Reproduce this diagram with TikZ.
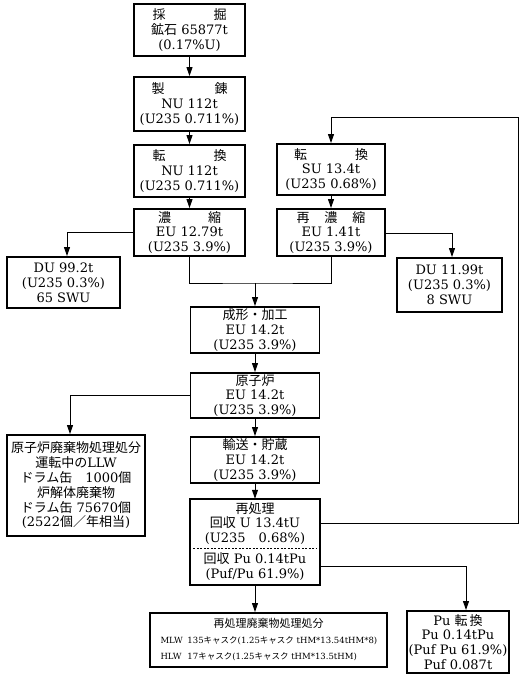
\documentclass[tikz,border=0pt]{standalone}
\usepackage{fontspec}
\setmainfont{DejaVu Serif}
\newfontfamily\jp{Noto Sans CJK JP}
\usetikzlibrary{arrows.meta}

\begin{document}
\begin{tikzpicture}[x=1pt,y=-1pt,
  box/.style={draw,line width=1.9pt,align=center,inner sep=0.5pt,font=\fontsize{13}{14.8}\selectfont},
  plain/.style={align=center,inner sep=0.5pt,font=\fontsize{13}{14.8}\selectfont},
  line/.style={line width=1pt},
  arr/.style={line,-{Triangle[length=9pt,width=6pt]}}]
  \useasboundingbox (0,0) rectangle (520,684);

  \node[box,minimum width=111,minimum height=52] (mine) at (189.5,30)
    {{\jp 採}\hspace{48pt}{\jp 掘}\\{\jp 鉱石} 65877t\\(0.17\%U)};
  \node[box,minimum width=111,minimum height=54] (refine) at (189.5,104)
    {{\jp 製}\hspace{50pt}{\jp 錬}\\NU 112t\\(U235 0.711\%)};
  \node[box,minimum width=111,minimum height=52] (conv) at (189.5,171)
    {{\jp 転}\hspace{48pt}{\jp 換}\\NU 112t\\(U235 0.711\%)};
  \node[box,minimum width=111,minimum height=47] (enrich) at (189.5,232.5)
    {{\jp 濃}\hspace{37pt}{\jp 縮}\\EU 12.79t\\(U235 3.9\%)};
  \node[box,minimum width=108,minimum height=51] (suconv) at (331,169.5)
    {{\jp 転}\hspace{48pt}{\jp 換}\\SU 13.4t\\(U235 0.68\%)};
  \node[box,minimum width=108,minimum height=47] (reenrich) at (331,232.5)
    {{\jp 再}\hspace{15pt}{\jp 濃}\hspace{15pt}{\jp 縮}\\EU 1.41t\\(U235 3.9\%)};
  \node[box,minimum width=113,minimum height=51] (du1) at (63.5,282.5)
    {DU 99.2t\\(U235 0.3\%)\\65 SWU};
  \node[box,minimum width=105,minimum height=54] (du2) at (449.5,285)
    {DU 11.99t\\(U235 0.3\%)\\8 SWU};
  \node[box,minimum width=129,minimum height=46] (fab) at (255,330)
    {{\jp 成形・加工}\\EU 14.2t\\(U235 3.9\%)};
  \node[box,minimum width=129,minimum height=45] (reactor) at (255,395.5)
    {{\jp 原子炉}\\EU 14.2t\\(U235 3.9\%)};
  \node[box,minimum width=129,minimum height=46] (store) at (255,460)
    {{\jp 輸送・貯蔵}\\EU 14.2t\\(U235 3.9\%)};
  \node[plain,minimum width=129,minimum height=49] (reproU) at (255,523.5)
    {{\jp 再処理}\\{\jp 回収} U 13.4tU\\(U235\quad 0.68\%)};
  \node[plain,minimum width=129,minimum height=37] (reproPu) at (255,566.5)
    {{\jp 回収} Pu 0.14tPu\\(Puf/Pu 61.9\%)};
  \draw[line width=1.9pt] (reproU.north west) rectangle (reproPu.south east);
  \draw[line width=0.6pt,dash pattern=on 2pt off 1.5pt,shorten <=3pt,shorten >=3pt]
    (reproU.south west) -- (reproU.south east);
  \node[box,minimum width=138,minimum height=101] (llw) at (76,485.5)
    {{\jp 原子炉廃棄物処理処分}\\{\jp 運転中の}LLW\\{\jp ドラム缶}\quad 1000{\jp 個}\\
     {\jp 炉解体廃棄物}\\{\jp ドラム缶} 75670{\jp 個}\\(2522{\jp 個／年相当})};
  \node[box,minimum width=237,minimum height=54,font=\fontsize{8.5}{16}\selectfont] (hlw) at (268.5,640)
    {{\fontsize{11}{16}\selectfont\jp 再処理廃棄物処理処分}\\
     \makebox[216pt][l]{\makebox[27pt][l]{MLW}135{\jp キャスク}(1.25{\jp キャスク} tHM*13.54tHM*8)}\\
     \makebox[216pt][l]{\makebox[27pt][l]{HLW}17{\jp キャスク}(1.25{\jp キャスク} tHM*13.5tHM)}};
  \node[box,minimum width=102,minimum height=62] (puconv) at (458,642)
    {Pu {\jp 転}\,{\jp 換}\\Pu 0.14tPu\\(Puf Pu 61.9\%)\\Puf 0.087t};

  \coordinate (join) at (255,283);
  \coordinate (loop) at (518,118);

  \draw[arr] (mine) -- (refine);
  \draw[arr] (refine) -- (conv);
  \draw[arr] (conv) -- (enrich);
  \draw[arr] (suconv) -- (reenrich);
  \draw[arr] (enrich.west) -| ([xshift=3.5pt]du1.north);
  \draw[arr] ([yshift=-1.5pt]reenrich.east) -| ([xshift=2.5pt]du2.north);
  \draw[line] (enrich.south) |- (join) -| (reenrich.south);
  \draw[arr] (join) -- (fab.north);
  \draw[arr] (fab) -- (reactor);
  \draw[arr] (reactor) -- (store);
  \draw[arr] (store) -- (reproU);
  \draw[arr] (reactor.west) -| ([xshift=-6pt]llw.north);
  \draw[arr] (reproU.east) -| (loop) -| (suconv.north);
  \draw[arr] (reproPu.east) -| ([xshift=8pt]puconv.north);
  \draw[arr] (reproPu.south) -- (reproPu.south |- hlw.north);
\end{tikzpicture}
\end{document}
